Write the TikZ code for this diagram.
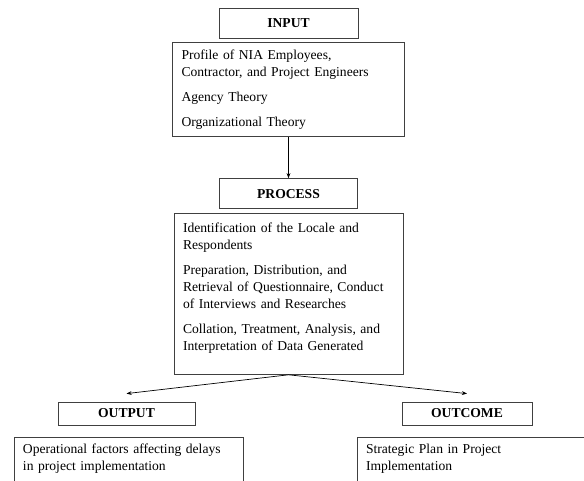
\documentclass[tikz,border=0pt]{standalone}
\usepackage{fontspec}
\setmainfont{Liberation Serif}
\usetikzlibrary{arrows.meta, positioning}
\tikzset{
  head/.style={draw=black!75, line width=0.8pt, font=\fontsize{13.6}{16}\selectfont\bfseries,
               minimum height=30pt, inner sep=0pt},
  body/.style={draw=black!75, line width=0.8pt, align=left, font=\fontsize{13.6}{17}\selectfont,
               text width=#1, inner xsep=9pt, inner ysep=6pt},
  flow/.style={-{Stealth[length=1.8mm]}, line width=0.7pt},
}
\begin{document}
\begin{tikzpicture}[x=1pt,y=1pt]
\clip (0,0) rectangle (584,480);
\node[head, minimum width=139pt] (inp) at (288.5,457) {INPUT};
\node[body=214pt, minimum height=94pt, below=4pt of inp] (inpbody) {Profile of NIA Employees,\\Contractor, and Project Engineers\\[8pt]Agency Theory\\[8pt]Organizational Theory};
\node[head, minimum width=138pt, below=41pt of inpbody] (proc) {PROCESS};
\node[body=211pt, minimum height=161pt, below=4pt of proc] (procbody) {Identification of the Locale and\\Respondents\\[8pt]Preparation, Distribution, and\\Retrieval of Questionnaire, Conduct\\of Interviews and Researches\\[8pt]Collation, Treatment, Analysis, and\\Interpretation of Data Generated\rule[-14pt]{0pt}{14pt}};
\draw[flow] (inpbody)--(proc);
% results
\node[head, minimum width=137pt, minimum height=23pt] (out) at (126.5,66.5) {OUTPUT};
\node[head, minimum width=130pt, minimum height=23pt] (outc) at (467,66.5) {OUTCOME};
\node[body=211pt, anchor=north west] (outbody) at ([xshift=-44pt,yshift=-12pt]out.south west) {Operational factors affecting delays\\in project implementation\rule[-40pt]{0pt}{0pt}};
\node[body=222pt, anchor=north west] (outcbody) at ([xshift=-45pt,yshift=-12pt]outc.south west) {Strategic Plan in Project\\Implementation\rule[-40pt]{0pt}{0pt}};
\coordinate (outtip) at ([yshift=8pt]out.north);
\coordinate (outctip) at ([yshift=8pt]outc.north);
\draw[flow] (procbody.south)--(outtip);
\draw[flow] (procbody.south)--(outctip);
\end{tikzpicture}
\end{document}
